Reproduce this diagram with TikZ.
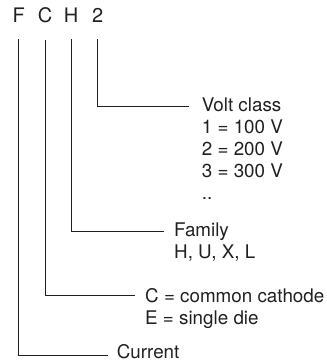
\documentclass[tikz,border=0pt]{standalone}
\usepackage{fontspec}
\setmainfont{TeX Gyre Heros}
\definecolor{ink}{RGB}{35,31,32}
\begin{document}
\begin{tikzpicture}[x=1pt,y=1pt,
  letter/.style={font=\fontsize{20}{24}\selectfont, inner sep=0pt, anchor=base, text=ink},
  lbl/.style={font=\fontsize{18.8}{22.2}\selectfont, inner sep=0pt, anchor=base west, align=left, text=ink},
  conn/.style={draw=ink, line width=0.9pt}]
\useasboundingbox (0,0) rectangle (327,-362);
% code letters
\node[letter] (lF) at (18.7,-22.7) {F};
\node[letter] (lC) at (45,-22.7) {C};
\node[letter] (lH) at (71,-22.7) {H};
\node[letter] (l2) at (97.7,-22.7) {2};
% labels (anchored at the baseline of their last line)
\node[lbl] (volt) at (201.7,-199.8) {Volt class\\1 = 100 V\\2 = 200 V\\3 = 300 V\\..};
\node[lbl] (fam) at (174,-258.9) {Family\\H, U, X, L};
\node[lbl] (cath) at (145,-324.7) {C = common cathode\\E = single die};
\node[lbl] (curr) at (116.7,-358) {Current};
% connectors
\draw[conn] ([yshift=-16.3pt]l2.south) |- ([xshift=-12.4pt,yshift=93.3pt]volt.base west);
\draw[conn] ([yshift=-16.3pt]lH.south) |- ([xshift=-10pt,yshift=27.7pt]fam.base west);
\draw[conn] ([yshift=-16.3pt]lC.south) |- ([xshift=-10pt,yshift=29.2pt]cath.base west);
\draw[conn] ([yshift=-16.3pt]lF.south) |- ([xshift=-8.4pt,yshift=3pt]curr.base west);
\end{tikzpicture}
\end{document}
